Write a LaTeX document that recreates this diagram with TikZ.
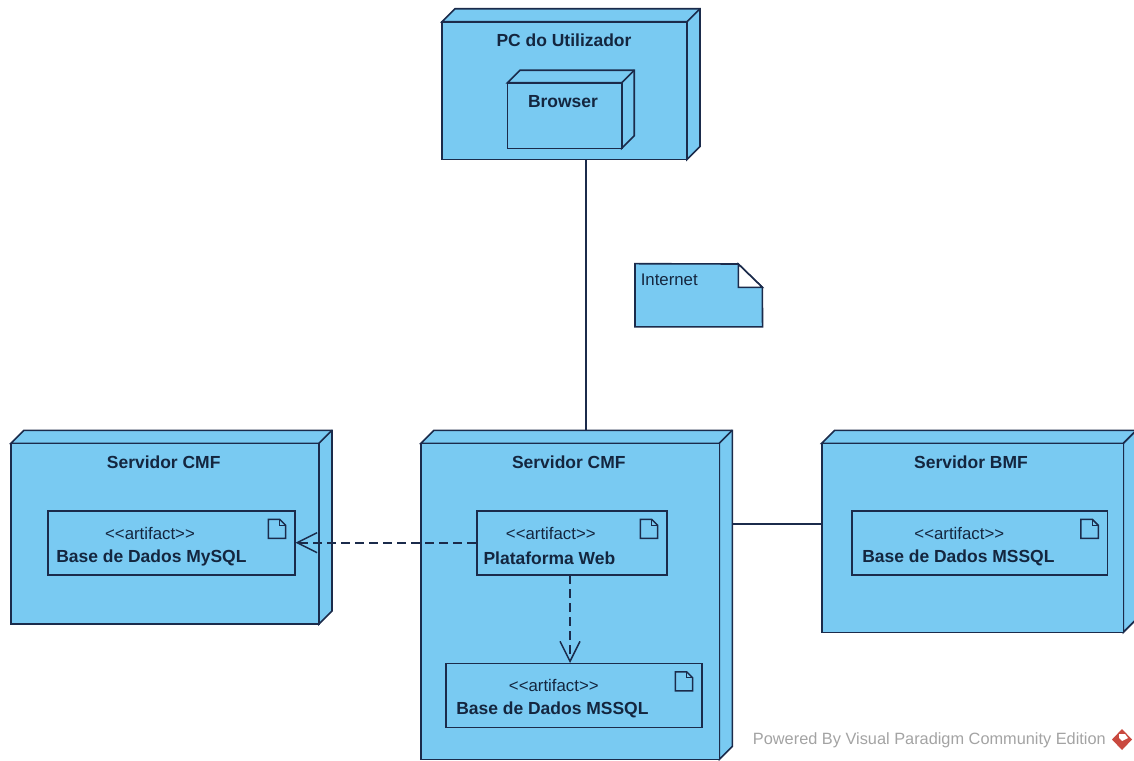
\documentclass[tikz,border=0pt]{standalone}
\usepackage{fontspec}
\setmainfont{Liberation Sans}
\usetikzlibrary{arrows.meta,calc}
\definecolor{vpfill}{HTML}{79CAF2}
\definecolor{vpline}{HTML}{1B2B4B}
\definecolor{vptext}{HTML}{14263F}
\definecolor{vpgrey}{HTML}{A3A3A3}
\definecolor{vpred}{HTML}{C9493F}
\tikzset{
  x=0.75pt,y=-0.75pt,
  front/.style={draw=vpline,fill=vpfill,line width=1.2pt,inner sep=0pt,line join=miter},
  faces/.style={draw=vpline,fill=vpfill,line width=1.2pt,line join=miter},
  title/.style={font=\fontsize{13.1}{15}\selectfont\bfseries,text=vptext,inner sep=0pt},
  stereo/.style={font=\fontsize{12.6}{15}\selectfont,text=vptext,inner sep=0pt},
  artname/.style={font=\fontsize{13.1}{15}\selectfont\bfseries,text=vptext,inner sep=0pt,anchor=west},
  assoc/.style={draw=vpline,line width=1.2pt},
  depend/.style={draw=vpline,line width=1.2pt,dash pattern=on 6.8pt off 3.7pt,
    -{Straight Barb[length=15pt,width=15pt,line width=1.1pt]}},
}
% name, x1, y1, x2, y2 (front face), depth
\newcommand{\umlnode}[6]{%
  \filldraw[faces] (#2,#3) -- ++(#6,-#6) -- (#4+#6,#3-#6) -- (#4+#6,#5-#6) -- (#4,#5) -- (#4,#3) -- cycle;
  \draw[faces,fill=none] (#4,#3) -- (#4+#6,#3-#6);
  \node[front,minimum width=(#4-#2)*0.75pt,minimum height=(#5-#3)*0.75pt] (#1) at ({(#2+#4)/2},{(#3+#5)/2}) {};
}
% name, x1, y1, x2, y2
\newcommand{\umlartifact}[5]{%
  \node[front,minimum width=(#4-#2)*0.75pt,minimum height=(#5-#3)*0.75pt] (#1) at ({(#2+#4)/2},{(#3+#5)/2}) {};
  \draw[line width=1.1pt,draw=vpline,line join=miter] (#4-26.4,#3+8.6) -- (#4-15,#3+8.6) -- (#4-9,#3+14.6) -- (#4-9,#3+27.6) -- (#4-26.4,#3+27.6) -- cycle;
  \draw[line width=.8pt,draw=vpline] (#4-15,#3+8.6) -- (#4-15,#3+14.6) -- (#4-9,#3+14.6);
}
\newcommand{\artifactword}{<{}<artifact>{}>}
\begin{document}
\begin{tikzpicture}
\useasboundingbox (0,0) rectangle (1134,760);
\umlnode{pc}{442}{21.7}{687}{159.5}{13}
\umlnode{browser}{507.5}{82.7}{621.7}{148.3}{12.5}
\node[title] (pctitle) at (564,40.7) {PC do Utilizador};
\node[title] (browsertitle) at (563,101.7) {Browser};

\umlnode{srvleft}{11}{443.3}{319}{624}{13}
\umlartifact{artmysql}{47.7}{510.7}{294.7}{575}
\node[title] (lefttitle) at (163.7,462.7) {Servidor CMF};
\node[stereo] (leftstereo) at (150,533.3) {\artifactword};
\node[artname] (leftname) at (56,558) {Base de Dados MySQL};

\umlnode{srvmid}{421}{443.3}{719.3}{759.5}{13}
\umlartifact{artweb}{476.7}{510.7}{666.7}{575}
\umlartifact{artmssql}{446}{663.3}{701.7}{727.3}
\node[title] (midtitle) at (568.8,462.7) {Servidor CMF};
\node[stereo] (webstereo) at (550.8,533.3) {\artifactword};
\node[artname] (webname) at (483.3,558) {Plataforma Web};
\node[stereo] (mssqlstereo) at (553.8,685.7) {\artifactword};
\node[artname] (mssqlname) at (456,710.3) {Base de Dados MSSQL};

\umlnode{srvright}{821.7}{443.3}{1123.3}{632.3}{13}
\umlartifact{artbmf}{852}{510.7}{1107.3}{575}
\node[title] (righttitle) at (971,462.7) {Servidor BMF};
\node[stereo] (rightstereo) at (959.3,533.3) {\artifactword};
\node[artname] (rightname) at (862,558) {Base de Dados MSSQL};

% note
\node[inner sep=0pt,minimum width=127*0.75pt,minimum height=62.7*0.75pt] (note) at (698.8,295.3) {};
\draw[faces] (note.south west) -- (note.north west) -- (738.3,264) -- (762.3,287.3) -- (note.south east) -- cycle;
\draw[line width=1.2pt,draw=vpline,fill=white] (738.3,264) -- (738.3,287.3) -- (762.3,287.3) -- cycle;
\node[stereo,anchor=west,font=\fontsize{12.6}{15}\selectfont] (notetext) at (640.5,279.3) {Internet};

% connectors
\coordinate (inetend) at (585.7,430.7);
\coordinate (bmfstart) at (732.3,523.7);
\draw[assoc] (pc.south -| inetend) -- (inetend);
\draw[assoc] (bmfstart) -- (bmfstart -| srvright.west);
\draw[depend] (artweb.west |- 0,542.7) -- (artmysql.east |- 0,542.7);
\draw[depend] (570,575) -- (570,663);

% watermark
\node[font=\fontsize{12.25}{14}\selectfont,text=vpgrey,inner sep=0pt,anchor=west] (powered) at (752.7,740.7) {Powered By Visual Paradigm Community Edition};
\fill[vpred] (1122,729) -- (1132,739.5) -- (1122,750) -- (1112,739.5) -- cycle;
\fill[white] (1119,734) -- (1125,734) -- (1128,738) -- (1122,741) -- (1119,738) -- cycle;
\end{tikzpicture}
\end{document}
